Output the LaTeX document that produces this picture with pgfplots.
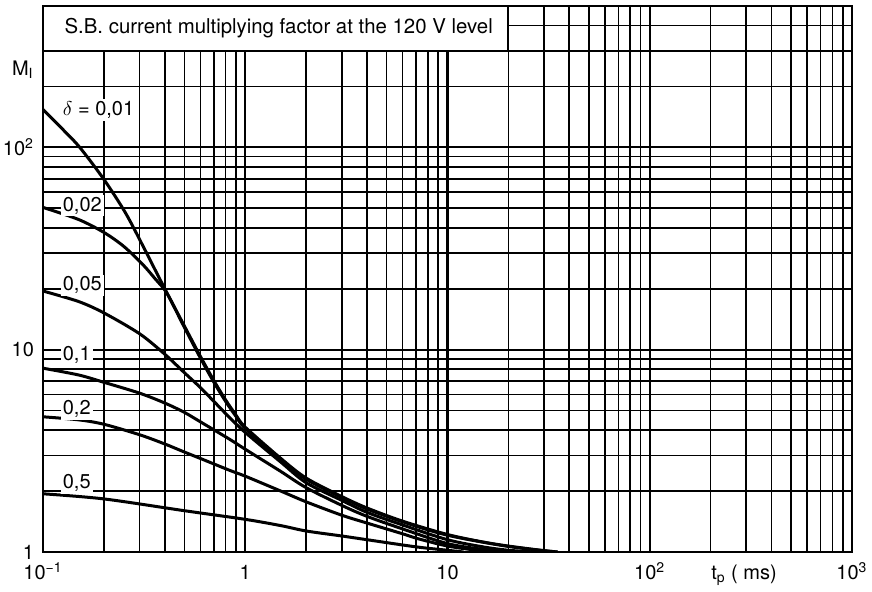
\documentclass[border=0pt]{standalone}
\usepackage{fontspec}
\setmainfont{TeX Gyre Heros}
\usepackage{pgfplots}
\pgfplotsset{compat=1.18}
\usetikzlibrary{calc}

\begin{document}
\begin{tikzpicture}[font=\fontsize{10}{12}\selectfont]
\begin{axis}[
    xmode=log, ymode=log,
    scale only axis,
    width=404.5pt, height=273pt,
    xmin=0.1, xmax=1000,
    ymin=1, ymax=500,
    xtick={0.1,1,10,100,1000},
    xticklabels={10\textsuperscript{−1},1,10,10\textsuperscript{2},10\textsuperscript{3}},
    ytick={1,10,100},
    yticklabels={1,10,10\textsuperscript{2}},
    minor xtick={0.2,0.3,0.4,0.5,0.6,0.7,0.8,0.9,2,3,4,5,6,7,8,9,20,30,40,50,60,70,80,90,200,300,400,500,600,700,800,900},
    minor ytick={2,3,4,5,6,7,8,9,20,30,40,50,60,70,80,90,200,300,400},
    major tick length=0pt, minor tick length=0pt,
    grid=both,
    major grid style={black, line width=1.1pt},
    minor grid style={black, line width=0.8pt},
    axis line style={line width=1.2pt},
    xticklabel style={anchor=base, yshift=-14pt},
    yticklabel style={xshift=-1pt},
    xlabel={t\textsubscript{p} ( ms)},
    xlabel style={at={(axis description cs:0.8665,0)}, anchor=base, yshift=-14pt},
    ylabel={M\textsubscript{I}},
    ylabel style={rotate=-90, at={(axis description cs:-0.047,0.883)}, anchor=west},
]
% delta = 0.01
\addplot[black, line width=1.5pt, smooth] coordinates {
(0.1,154) (0.125,123) (0.152,100) (0.2,69.5) (0.255,47.7) (0.31,33) (0.36,24.6)
(0.41,19.1) (0.5,13.1) (0.6,9.27) (0.7,7.03) (0.8,5.64) (0.9,4.75) (1,4.14)
(1.5,2.9) (2,2.32) (3,1.88) (4,1.65) (6,1.42) (10,1.22) (15,1.12) (20,1.07) (30,1.015) (35,1.0)
};
% delta = 0.02
\addplot[black, line width=1.5pt, smooth] coordinates {
(0.1,50.5) (0.15,44) (0.2,38) (0.25,32.5) (0.31,26.5) (0.36,22.3) (0.41,19.0)
(0.5,12.9) (0.6,9.1) (0.7,6.9) (0.8,5.55) (0.9,4.68) (1,4.08)
(1.5,2.86) (2,2.29) (3,1.86) (4,1.63) (6,1.41) (10,1.21) (20,1.065) (35,1.0)
};
% delta = 0.05
\addplot[black, line width=1.5pt, smooth] coordinates {
(0.1,19.5) (0.15,17.3) (0.2,15.2) (0.3,12.0) (0.4,9.5) (0.5,7.7) (0.6,6.5)
(0.7,5.55) (0.84,4.6) (1,3.9) (1.5,2.78) (2,2.2) (3,1.8) (4,1.57) (6,1.36)
(10,1.15) (15,1.06) (20,1.02) (27,1.0)
};
% delta = 0.1
\addplot[black, line width=1.5pt, smooth] coordinates {
(0.1,8.1) (0.15,7.5) (0.2,6.9) (0.3,6.1) (0.4,5.45) (0.5,4.9) (0.6,4.4)
(0.84,3.6) (1,3.22) (1.5,2.5) (2,2.08) (3,1.7) (4,1.5) (6,1.3) (10,1.1)
(15,1.03) (20,1.0)
};
% delta = 0.2
\addplot[black, line width=1.5pt, smooth] coordinates {
(0.1,4.66) (0.15,4.5) (0.2,4.28) (0.3,3.8) (0.4,3.42) (0.5,3.12) (0.6,2.9) (0.84,2.53)
(1,2.37) (1.5,2.0) (2,1.77) (3,1.52) (4,1.39) (6,1.23) (7,1.17) (10,1.07)
(14,1.02) (18,1.0)
};
% delta = 0.5
\addplot[black, line width=1.5pt, smooth] coordinates {
(0.1,1.94) (0.2,1.83) (0.5,1.6) (1,1.45) (1.5,1.35) (2,1.27) (3,1.2) (4,1.15)
(7,1.06) (10,1.02) (12,1.0)
};

% title box
\draw[fill=white, line width=1.1pt] (axis cs:0.1,300) rectangle (axis cs:20,500);
\node[anchor=west, font=\fontsize{10.2}{12}\selectfont] at (axis cs:0.118,387) {S.B. current multiplying factor at the 120 V level};

% curve labels
\node[anchor=west, fill=white, inner sep=1pt] at (axis cs:0.122,153) {$\delta$ = 0,01};
\node[anchor=west, fill=white, inner sep=1pt] at (axis cs:0.122,51.6) {0,02};
\node[anchor=west, fill=white, inner sep=1pt] at (axis cs:0.122,20.8) {0,05};
\node[anchor=west, fill=white, inner sep=1pt] at (axis cs:0.122,9.4) {0,1};
\node[anchor=west, fill=white, inner sep=1pt] at (axis cs:0.122,5.08) {0,2};
\node[anchor=west, fill=white, inner sep=1pt] at (axis cs:0.122,2.19) {0,5};

\coordinate (SW) at (rel axis cs:0,0);
\coordinate (NE) at (rel axis cs:1,1);
\end{axis}
\pgfresetboundingbox
\path[use as bounding box] ($(SW)+(-21.5pt,-20pt)$) rectangle ($(NE)+(10pt,3pt)$);
\end{tikzpicture}
\end{document}
